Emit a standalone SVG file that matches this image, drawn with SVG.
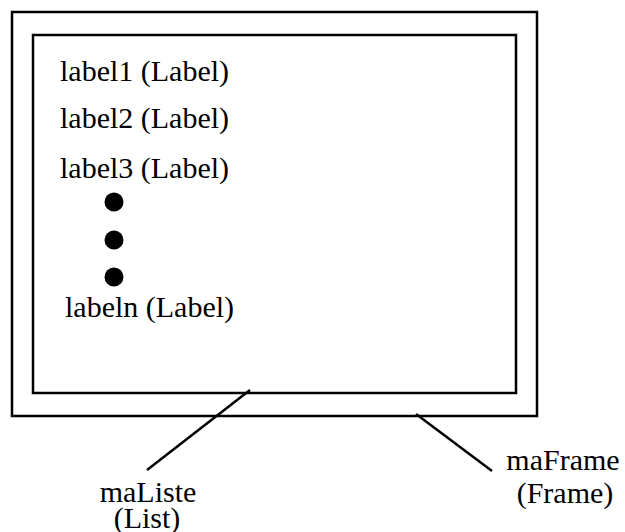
<svg xmlns="http://www.w3.org/2000/svg" width="625" height="532" viewBox="0 0 625 532">
<style>
.box{fill:none;stroke:#000;stroke-width:2.5}
.t{font-family:"Liberation Serif","Times New Roman",serif;font-size:30px;fill:#000}
.c{stroke:#000;stroke-width:2.5;fill:none}
</style>
<rect width="625" height="532" fill="#fff"/>
<g id="maFrame">
<rect class="box" x="12" y="12" width="525" height="404"/>
<text class="t" x="563" y="470" text-anchor="middle">maFrame</text>
<text class="t" x="565" y="503" text-anchor="middle">(Frame)</text>
</g>
<g id="maListe">
<rect class="box" x="33" y="35" width="483" height="358"/>
<text class="t" x="148" y="502" text-anchor="middle">maListe</text>
<text class="t" x="147" y="528" text-anchor="middle">(List)</text>
</g>
<g id="label1"><text class="t" x="60" y="81">label1 (Label)</text></g>
<g id="label2"><text class="t" x="60" y="128">label2 (Label)</text></g>
<g id="label3"><text class="t" x="60" y="178">label3 (Label)</text></g>
<g id="dots">
<circle cx="114" cy="202" r="9.5"/>
<circle cx="114" cy="240" r="9.5"/>
<circle cx="114" cy="277" r="9.5"/>
</g>
<g id="labeln"><text class="t" x="65" y="317">labeln (Label)</text></g>
<g id="connectors">
<line class="c" x1="250" y1="390" x2="147" y2="470"/>
<line class="c" x1="416" y1="414" x2="492" y2="471"/>
</g>
</svg>
